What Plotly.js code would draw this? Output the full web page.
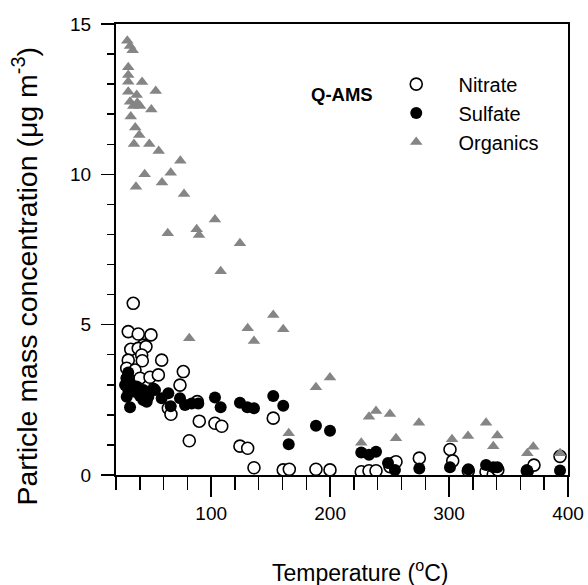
<!DOCTYPE html>
<html>
<head>
<meta charset="utf-8">
<script src="https://cdn.plot.ly/plotly-3.0.1.min.js"></script>
<style>body{margin:0;padding:0;background:#fff;}#chart{width:588px;height:585px;}</style>
</head>
<body>
<div id="chart"></div>
<script>
// Nitrate (open circles)
var nitrateT = [34.5,30.3,38.7,49.4,43.0,32.4,38.7,45.2,41.6,30.3,42.1,58.4,29.0,36.0,76.6,40.2,48.6,55.6,73.8,29.5,64.0,66.2,90.0,103.2,108.9,81.6,88.3,124.2,130.7,152.2,136.0,160.6,165.7,188.1,199.9,226.2,232.7,238.6,250.3,253.1,255.4,275.0,300.8,303.1,316.2,331.1,337.2,341.0,365.8,371.4,393.3];
var nitrateC = [5.71,4.77,4.69,4.66,4.32,4.18,4.21,4.27,3.99,3.82,3.80,3.82,3.55,3.49,3.44,3.22,3.25,3.33,2.99,3.22,2.22,2.02,1.79,1.72,1.62,1.14,2.44,0.96,0.89,1.89,0.24,0.17,0.19,0.19,0.17,0.11,0.14,0.14,0.28,0.39,0.44,0.56,0.85,0.47,0.14,0.11,0.03,0.17,0.14,0.33,0.62];
// Sulfate (filled circles)
var sulfateT = [30.3,29.0,31.8,27.6,33.2,37.4,30.3,36.0,43.0,51.4,29.0,40.2,47.2,58.4,64.0,73.8,78.0,83.6,89.2,31.8,43.0,66.0,45.8,52.8,103.2,108.0,124.2,130.4,136.0,152.2,160.6,165.2,188.1,199.9,226.2,232.7,238.6,248.7,254.5,275.0,300.8,316.2,331.1,337.2,340.6,365.8,393.3];
var sulfateC = [3.41,3.22,3.06,2.99,2.94,2.94,2.83,2.77,2.83,2.88,2.60,2.63,2.60,2.55,2.72,2.55,2.33,2.38,2.38,2.25,2.49,2.29,2.44,2.83,2.58,2.25,2.40,2.25,2.22,2.63,2.30,1.02,1.64,1.47,0.75,0.67,0.77,0.40,0.17,0.22,0.26,0.19,0.33,0.26,0.26,0.15,0.15];
// Organics (gray triangles)
var organicsT = [29.5,31.8,34.0,30.3,30.3,30.3,41.9,30.3,53.4,37.4,31.8,37.9,34.5,40.2,49.7,32.4,36.2,39.6,35.1,48.0,55.9,74.1,44.1,66.0,58.7,36.8,77.2,63.5,87.8,89.8,103.2,124.2,108.0,152.2,130.7,160.6,136.0,81.6,199.9,188.1,165.2,238.6,232.7,250.3,226.2,255.4,274.7,302.5,315.9,331.1,340.6,337.2,365.8,370.8,393.3];
var organicsC = [14.44,14.27,14.13,13.56,13.30,13.08,13.07,12.75,12.77,12.64,12.41,12.38,12.27,12.27,12.16,11.92,11.56,11.31,11.01,11.01,10.78,10.45,10.00,10.05,9.73,9.59,9.35,8.04,8.17,7.98,8.50,7.71,6.78,5.32,4.88,4.85,4.46,4.55,3.24,2.92,1.39,2.13,1.94,2.03,1.07,1.22,1.74,1.19,1.30,1.74,1.31,0.96,0.72,0.94,0.72];

var seriesNames = ['Nitrate','Sulfate','Organics'];
var xTickVals = [100,200,300,400];
var yTickVals = [0,5,10,15];

var FONT = '"Liberation Sans", Arial, sans-serif';
var gray = '#858585';
var pad = '\u00a0\u00a0\u00a0\u00a0';

var traces = [
  {x: nitrateT, y: nitrateC, type:'scatter', mode:'markers', name: pad + seriesNames[0],
   marker:{symbol:'circle', size:12, color:'#ffffff', line:{color:'#000000', width:1.6}}},
  {x: sulfateT, y: sulfateC, type:'scatter', mode:'markers', name: pad + seriesNames[1],
   marker:{symbol:'circle', size:12, color:'#000000', line:{color:'#000000', width:0}}},
  {x: organicsT, y: organicsC, type:'scatter', mode:'markers', name: pad + seriesNames[2],
   marker:{symbol:'triangle-up', size:11, color:gray, line:{width:0}}}
];

var layout = {
  width:588, height:585,
  margin:{l:116, r:20, t:24, b:110, pad:0},
  paper_bgcolor:'#ffffff', plot_bgcolor:'#ffffff',
  font:{family:FONT, color:'#000000', size:19},
  showlegend:true,
  legend:{x:0.62, y:0.91, xanchor:'left', yanchor:'top', bgcolor:'rgba(0,0,0,0)',
          font:{family:FONT, size:20, color:'#000'}, tracegroupgap:0, traceorder:'normal'},
  xaxis:{range:[20,400], showgrid:false, zeroline:false, showline:true, linecolor:'#000', linewidth:2,
         mirror:true, ticks:'outside', ticklen:20, tickwidth:1.5, tickcolor:'#000',
         tickmode:'array', tickvals:xTickVals, ticktext:xTickVals.map(String),
         tickfont:{family:FONT, size:19}, ticklabelstandoff:0,
         minor:{dtick:20, tick0:0, ticks:'outside', ticklen:13, tickwidth:1.5, tickcolor:'#000', showgrid:false}},
  yaxis:{range:[0,15], showgrid:false, zeroline:false, showline:true, linecolor:'#000', linewidth:2,
         mirror:true, ticks:'outside', ticklen:13, tickwidth:1.5, tickcolor:'#000',
         tickmode:'array', tickvals:yTickVals, ticktext:yTickVals.map(String),
         tickfont:{family:FONT, size:19}, ticklabelstandoff:6,
         minor:{dtick:1, tick0:0, ticks:'outside', ticklen:7, tickwidth:1.5, tickcolor:'#000', showgrid:false}},
  annotations:[
    {text:'<b>Q-AMS</b>', xref:'paper', yref:'paper', x:0.5, y:0.8426, xanchor:'center', yanchor:'middle',
     showarrow:false, font:{family:FONT, size:18.5, color:'#000'}},
    {text:'Temperature (<sup>o</sup>C)', xref:'paper', yref:'paper', x:0.54, y:-0.212, xanchor:'center', yanchor:'middle',
     showarrow:false, font:{family:FONT, size:23, color:'#000'}},
    {text:'Particle mass concentration (\u03bcg m<sup>-3</sup>)', xref:'paper', yref:'paper', x:-0.2013, y:0.44,
     xanchor:'center', yanchor:'middle', textangle:-90, showarrow:false, font:{family:FONT, size:28.5, color:'#000'}}
  ]
};

Plotly.newPlot('chart', traces, layout, {staticPlot:true, displayModeBar:false});
</script>
</body>
</html>
